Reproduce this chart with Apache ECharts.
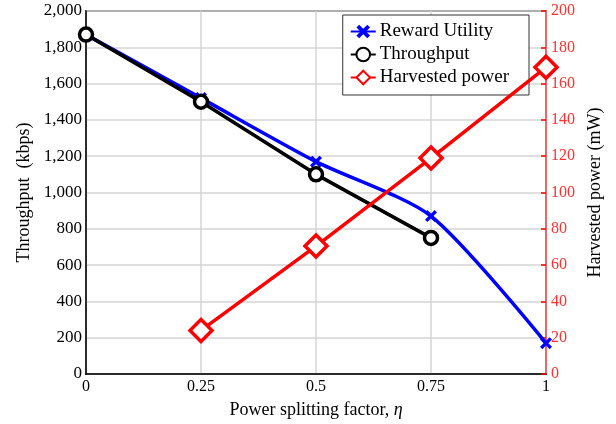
<!DOCTYPE html>
<html><head><meta charset="utf-8">
<script src="https://cdn.jsdelivr.net/npm/echarts@6/dist/echarts.min.js"></script>
<style>html,body{margin:0;padding:0;background:#fff}#c{width:616px;height:424px}</style>
</head><body><div id="c"></div>
<script>
const eta = [0, 0.25, 0.5, 0.75, 1];
const rewardUtility = [1870, 1520, 1170, 870, 170];
const throughput = [1870, 1500, 1100, 750];
const harvestedEta = [0.25, 0.5, 0.75, 1];
const harvestedPower = [24, 70.5, 119, 169];
const xTicks = ['0', '0.25', '0.5', '0.75', '1'];

const F = 'Liberation Serif';
const xMark = 'path://M0,2 L2,0 L5,3 L8,0 L10,2 L7,5 L10,8 L8,10 L5,7 L2,10 L0,8 L3,5 Z';
const chart = echarts.init(document.getElementById('c'));
chart.setOption({
  animation: false,
  grid: {left: 86, right: 70, top: 11, bottom: 50, show: true, borderColor: '#000', borderWidth: 1.5},
  legend: {
    orient: 'vertical', right: 87, top: 15, itemWidth: 25, itemHeight: 17, itemGap: 4,
    borderColor: '#333', borderWidth: 1, backgroundColor: '#fff', padding: [7, 20, 8, 7],
    textStyle: {fontFamily: F, fontSize: 19, color: '#000', padding: [0, 0, 0, -1]},
    data: ['Reward Utility', 'Throughput', 'Harvested power']
  },
  xAxis: {
    type: 'value', min: 0, max: 1, interval: 0.25,
    name: 'Power splitting factor, {i|η}', nameLocation: 'middle', nameGap: 27,
    nameTextStyle: {fontFamily: F, fontSize: 18, color: '#000',
      rich: {i: {fontFamily: F, fontSize: 18, fontStyle: 'italic', color: '#000'}}},
    axisLine: {show: true, lineStyle: {color: '#000', width: 1.5}},
    axisTick: {show: false},
    axisLabel: {fontFamily: F, fontSize: 16, color: '#000', margin: 5,
      formatter: v => xTicks[Math.round(v / 0.25)]},
    splitLine: {show: true, lineStyle: {color: '#d4d4d4', width: 1.5}}
  },
  yAxis: [{
    type: 'value', min: 0, max: 2000, interval: 200,
    name: 'Throughput  (kbps)', nameLocation: 'middle', nameGap: 51,
    nameTextStyle: {fontFamily: F, fontSize: 18, color: '#000'},
    axisLine: {show: true, lineStyle: {color: '#000', width: 1.5}},
    axisTick: {show: false},
    axisLabel: {fontFamily: F, fontSize: 17, color: '#000', margin: 4,
      formatter: v => v.toLocaleString('en-US')},
    splitLine: {show: true, lineStyle: {color: '#d4d4d4', width: 1.5}}
  }, {
    type: 'value', min: 0, max: 200, interval: 20, position: 'right',
    name: 'Harvested power (mW)', nameLocation: 'middle', nameGap: 33, nameRotate: 90,
    nameTextStyle: {fontFamily: F, fontSize: 18, color: '#000'},
    axisLine: {show: true, lineStyle: {color: '#ff5050', width: 1.5}},
    axisTick: {show: true, inside: true, length: 5, lineStyle: {color: '#ff0000', width: 1.5}},
    axisLabel: {fontFamily: F, fontSize: 16, color: '#ff3030', margin: 5},
    splitLine: {show: false}
  }],
  series: [{
    name: 'Reward Utility', type: 'line', yAxisIndex: 0, smooth: 0.25,
    data: eta.map((x, i) => [x, rewardUtility[i]]),
    symbol: xMark, symbolSize: 12, z: 3,
    lineStyle: {color: '#0000ff', width: 3.5},
    itemStyle: {color: '#0000ff', borderWidth: 0}
  }, {
    name: 'Throughput', type: 'line', yAxisIndex: 0,
    data: throughput.map((v, i) => [eta[i], v]),
    symbol: 'circle', symbolSize: 13, z: 4,
    lineStyle: {color: '#000', width: 3.5},
    itemStyle: {color: '#fff', borderColor: '#000', borderWidth: 3.5}
  }, {
    name: 'Harvested power', type: 'line', yAxisIndex: 1,
    data: harvestedEta.map((x, i) => [x, harvestedPower[i]]),
    symbol: 'diamond', symbolSize: 22, z: 5,
    lineStyle: {color: '#ff0000', width: 3.5},
    itemStyle: {color: '#fff', borderColor: '#ff0000', borderWidth: 3.5}
  }]
});
</script></body></html>
